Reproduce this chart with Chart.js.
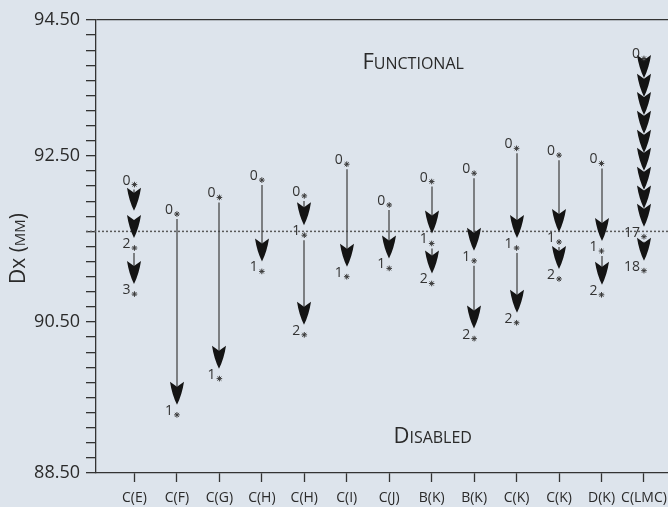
<!DOCTYPE html>
<html>
<head>
<meta charset="utf-8">
<script src="https://cdn.jsdelivr.net/npm/chart.js@4.4.1/dist/chart.umd.min.js"></script>
<style>
  html, body { margin: 0; padding: 0; background: #dde4ec; }
</style>
</head>
<body>
<canvas id="dxChart" width="668" height="507"></canvas>
<script>
// categories along the bottom
const categories = ["C(E)", "C(F)", "C(G)", "C(H)", "C(H)", "C(I)", "C(J)", "B(K)", "B(K)", "C(K)", "C(K)", "D(K)", "C(LMC)"];

// Dx (mm) at each step, one list per category
const dxSeries = [
  [92.32, 91.84, 91.48, 90.87],
  [91.93, 89.27],
  [92.15, 89.75],
  [92.38, 91.17],
  [92.17, 91.65, 90.33],
  [92.59, 91.10],
  [92.05, 91.21],
  [92.36, 91.54, 91.01],
  [92.47, 91.31, 90.28],
  [92.80, 91.48, 90.49],
  [92.71, 91.56, 91.07],
  [92.60, 91.44, 90.86],
  [93.99, 93.60, 93.35, 93.11, 92.86, 92.61, 92.37, 92.12, 91.87, 91.63, 91.18]
];

// step numbers printed next to each point ("" = not printed)
const stepLabels = [
  ["0", "", "2", "3"],
  ["0", "1"],
  ["0", "1"],
  ["0", "1"],
  ["0", "1", "2"],
  ["0", "1"],
  ["0", "1"],
  ["0", "1", "2"],
  ["0", "1", "2"],
  ["0", "1", "2"],
  ["0", "1", "2"],
  ["0", "1", "2"],
  ["0", "", "", "", "", "", "", "", "", "17", "18"]
];

// y axis: minor ticks every 0.2, labels sit on these minor-tick indices
const yTickLabels = ["88.50", "90.50", "92.50", "94.50"];
const yTickSteps = [0, 10, 21, 30];
const thresholdDx = 91.70;

const FONT = "'Open Sans', sans-serif";
const INK = "#2a2a2a";

function drawCaps(ctx, parts, x, y, align) {
  // parts: [text, size] pieces drawn one after another
  let total = 0;
  parts.forEach(p => { ctx.font = p[1] + "px " + FONT; total += ctx.measureText(p[0]).width; });
  let cx = align === "center" ? x - total / 2 : x;
  ctx.textAlign = "left";
  ctx.textBaseline = "alphabetic";
  parts.forEach(p => {
    ctx.font = p[1] + "px " + FONT;
    ctx.fillText(p[0], cx, y);
    cx += ctx.measureText(p[0]).width;
  });
}

function drawArrow(ctx, x, y0, y1) {
  const start = y0 + 5, tip = y1 - 10;
  const headLen = 23, halfW = 7, notch = 5;
  ctx.strokeStyle = "#3c3c3c";
  ctx.lineWidth = 1.2;
  ctx.beginPath();
  ctx.moveTo(x, start);
  ctx.lineTo(x, tip - headLen + notch);
  ctx.stroke();
  ctx.fillStyle = "#141414";
  ctx.beginPath();
  ctx.moveTo(x, tip);
  ctx.quadraticCurveTo(x - 5, tip - 10, x - halfW, tip - headLen);
  ctx.lineTo(x, tip - headLen + notch);
  ctx.lineTo(x + halfW, tip - headLen);
  ctx.quadraticCurveTo(x + 5, tip - 10, x, tip);
  ctx.closePath();
  ctx.fill();
}

const arrowPlugin = {
  id: "arrows",
  beforeDraw(chart) {
    const ctx = chart.ctx;
    ctx.save();
    ctx.fillStyle = "#dde4ec";
    ctx.fillRect(0, 0, chart.width, chart.height);
    ctx.restore();
  },
  beforeDatasetsDraw(chart) {
    const ctx = chart.ctx, xs = chart.scales.x, ys = chart.scales.y, area = chart.chartArea;
    ctx.save();
    // threshold line
    const ty = ys.getPixelForValue(thresholdDx);
    ctx.strokeStyle = "#5a5a5a";
    ctx.lineWidth = 1.5;
    ctx.setLineDash([2, 2]);
    ctx.beginPath();
    ctx.moveTo(area.left - 10, ty);
    ctx.lineTo(area.right, ty);
    ctx.stroke();
    ctx.setLineDash([]);
    dxSeries.forEach((vals, i) => {
      const x = Math.round(xs.getPixelForValue(i));
      for (let k = 0; k < vals.length - 1; k++) {
        drawArrow(ctx, x, ys.getPixelForValue(vals[k]), ys.getPixelForValue(vals[k + 1]));
      }
    });
    ctx.restore();
  },
  afterDatasetsDraw(chart) {
    const ctx = chart.ctx, xs = chart.scales.x, ys = chart.scales.y;
    ctx.save();
    ctx.fillStyle = "#333";
    ctx.font = "14px " + FONT;
    ctx.textAlign = "right";
    ctx.textBaseline = "middle";
    stepLabels.forEach((labs, i) => {
      const x = xs.getPixelForValue(i);
      labs.forEach((t, k) => {
        if (!t) return;
        ctx.fillText(t, x - 4, ys.getPixelForValue(dxSeries[i][k]) - 4);
      });
    });
    // region names and axis title
    ctx.fillStyle = INK;
    drawCaps(ctx, [["F", 22], ["UNCTIONAL", 16]], xs.getPixelForValue(5.37), ys.getPixelForValue(93.85), "left");
    drawCaps(ctx, [["D", 22], ["ISABLED", 16]], xs.getPixelForValue(6.10), ys.getPixelForValue(88.90), "left");
    ctx.translate(25, (chart.chartArea.top + chart.chartArea.bottom) / 2 + 2);
    ctx.rotate(-Math.PI / 2);
    drawCaps(ctx, [["Dx (", 21], ["MM", 15], [")", 21]], 0, 0, "center");
    ctx.restore();
  }
};

const datasets = dxSeries.map((vals, i) => ({
  label: categories[i],
  data: vals.map(v => ({ x: i, y: v })),
  showLine: false,
  pointStyle: "star",
  pointRadius: ctx => (stepLabels[i][ctx.dataIndex] ? 2.8 : 0),
  pointHoverRadius: 0,
  borderColor: "#3a3a3a",
  backgroundColor: "#3a3a3a",
  borderWidth: 1
}));

new Chart(document.getElementById("dxChart"), {
  type: "scatter",
  data: { datasets: datasets },
  options: {
    responsive: false,
    animation: false,
    devicePixelRatio: 1,
    events: [],
    layout: { autoPadding: false, padding: { top: 20, right: 0, bottom: 0, left: 0 } },
    plugins: { legend: { display: false }, tooltip: { enabled: false } },
    scales: {
      x: {
        type: "linear",
        min: -0.906,
        max: 12.566,
        afterBuildTicks: s => { s.ticks = categories.map((_, i) => ({ value: i })); },
        afterFit: s => { s.height = 34; s.paddingLeft = 0; s.paddingRight = 0; },
        ticks: {
          callback: v => categories[v],
          autoSkip: false,
          maxRotation: 0,
          padding: 8,
          color: INK,
          font: { family: FONT, size: 14 }
        },
        grid: { drawOnChartArea: false, drawTicks: true, tickLength: 9, tickColor: "#333", tickWidth: 1.3 },
        border: { color: "#333", width: 1.3 }
      },
      y: {
        type: "linear",
        min: 88.5,
        max: 94.5,
        afterBuildTicks: s => {
          const t = [];
          for (let k = 0; k <= 30; k++) t.push({ value: 88.5 + 0.2 * k });
          s.ticks = t;
        },
        afterFit: s => { s.width = 96; },
        ticks: {
          callback: (v, idx) => {
            const j = yTickSteps.indexOf(idx);
            return j >= 0 ? yTickLabels[j] : "";
          },
          autoSkip: false,
          padding: 6,
          color: INK,
          font: { family: FONT, size: 18 }
        },
        grid: {
          color: c => (c.index === 30 ? "#333" : "rgba(0,0,0,0)"),
          lineWidth: 1.3,
          drawTicks: true,
          tickLength: 10,
          tickColor: "#333",
          tickWidth: 1.3
        },
        border: { color: "#333", width: 1.3 }
      }
    }
  },
  plugins: [arrowPlugin]
});
</script>
</body>
</html>
